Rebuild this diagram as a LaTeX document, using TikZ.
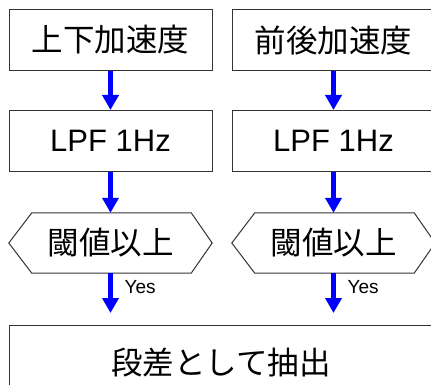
\documentclass[tikz,border=0pt]{standalone}
\usepackage{fontspec}
\setmainfont{Liberation Sans}
\newfontfamily\jp{Noto Sans CJK JP}
\usetikzlibrary{arrows.meta}
\begin{document}
\begin{tikzpicture}[x=1pt,y=-1pt,
  boxnode/.style={draw=black!80, line width=1pt, minimum width=203pt, minimum height=61pt, inner sep=0pt},
  hexnode/.style={minimum width=203pt, minimum height=60pt, inner sep=0pt},
  jptext/.style={font=\jp\fontsize{31.5}{36}\selectfont},
  latext/.style={font=\fontsize{31}{36}\selectfont},
  flow/.style={draw=blue, line width=4.7pt, -{Triangle[width=16pt,length=15pt]}},
  yeslabel/.style={font=\fontsize{19}{22}\selectfont, anchor=west, inner sep=0pt}
]
\useasboundingbox (0,0) rectangle (431,385);
\clip (0,0) rectangle (431,385);
% left column
\node[boxnode, jptext] (a1) at (110.5,40) {上下加速度};
\node[boxnode, latext] (b1) at (110.5,141) {LPF 1Hz};
\node[hexnode, jptext] (h1) at (110.5,243) {閾値以上};
% right column
\node[boxnode, jptext] (a2) at (333.5,40) {前後加速度};
\node[boxnode, latext] (b2) at (333.5,141) {LPF 1Hz};
\node[hexnode, jptext] (h2) at (333.5,243) {閾値以上};
% bottom
\node[draw=black!80, line width=1pt, minimum width=424pt, minimum height=76pt, inner sep=0pt, jptext] (c) at (221,363) {段差として抽出};
% hexagon outlines
\foreach \h in {h1,h2}{
  \draw[black!80, line width=1pt] (\h.west) -- ([xshift=23pt]\h.north west) -- ([xshift=-21pt]\h.north east) -- (\h.east) -- ([xshift=-21pt]\h.south east) -- ([xshift=23pt]\h.south west) -- cycle;
}
% end points of yes arrows
\coordinate (e1) at (110.5,313);
\coordinate (e2) at (333.5,313);
% arrows
\draw[flow] (a1.south) -- (b1.north);
\draw[flow] (b1.south) -- (h1.north);
\draw[flow] (h1.south) -- (e1);
\draw[flow] (a2.south) -- (b2.north);
\draw[flow] (b2.south) -- (h2.north);
\draw[flow] (h2.south) -- (e2);
\node[yeslabel] (y1) at ([xshift=14pt,yshift=-14pt]h1.south) {Yes};
\node[yeslabel] (y2) at ([xshift=14pt,yshift=-14pt]h2.south) {Yes};
\end{tikzpicture}
\end{document}
